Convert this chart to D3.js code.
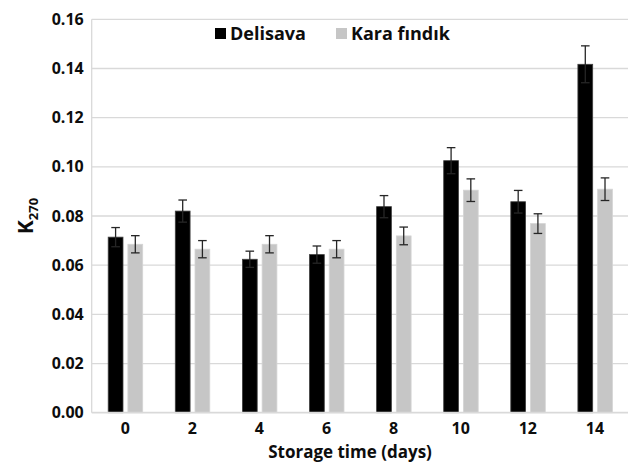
<!DOCTYPE html>
<html>
<head>
<meta charset="utf-8">
<script src="https://cdn.jsdelivr.net/npm/d3@7"></script>
<style>
  html, body { margin: 0; padding: 0; background: #fff; }
  svg { display: block; }
  text { font-family: "Open Sans", "Lato", sans-serif; font-weight: 700; fill: #0d0d0d; }
</style>
</head>
<body>
<svg id="chart" width="628" height="463"></svg>
<script>
// ---- data ----
const days = ["0", "2", "4", "6", "8", "10", "12", "14"];
const seriesNames = ["Delisava", "Kara fındık"];
const delisava = [0.0714, 0.0820, 0.0624, 0.0643, 0.0838, 0.1025, 0.0858, 0.1417];
const delisavaErr = [0.0039, 0.0045, 0.0033, 0.0035, 0.0045, 0.0053, 0.0046, 0.0075];
const kara = [0.0685, 0.0665, 0.0685, 0.0665, 0.0719, 0.0905, 0.0769, 0.0909];
const karaErr = [0.0035, 0.0035, 0.0035, 0.0035, 0.0036, 0.0046, 0.0040, 0.0046];
const yTicks = [0, 0.02, 0.04, 0.06, 0.08, 0.10, 0.12, 0.14, 0.16];
const xTitle = "Storage time (days)";
const yTitleMain = "K";
const yTitleSub = "270";

const colors = ["#000000", "#c6c6c6"];
const strokes = ["#404040", "#d4d4d4"];

const svg = d3.select("#chart");
const pLeft = 91.7, pRight = 628.5, pTop = 19.3, pBottom = 412.7;

const x = d3.scaleBand().domain(days).range([pLeft, pRight]).paddingInner(0).paddingOuter(0);
const x1 = d3.scaleBand().domain(seriesNames).range([16.5, 51]).paddingInner(0.25);
const y = d3.scaleLinear().domain([0, 0.16]).range([pBottom, pTop]);

// gridlines
svg.append("g").selectAll("line").data(yTicks.slice(1)).join("line")
  .attr("x1", pLeft).attr("x2", pRight)
  .attr("y1", d => y(d)).attr("y2", d => y(d))
  .attr("stroke", "#d9d9d9").attr("stroke-width", 1.3);

// y axis line
svg.append("line").attr("x1", pLeft).attr("x2", pLeft).attr("y1", pTop).attr("y2", pBottom)
  .attr("stroke", "#d9d9d9").attr("stroke-width", 1.3);

// y axis labels
const yAxis = d3.axisLeft(y).tickValues(yTicks).tickFormat(d3.format(".2f")).tickSize(0).tickPadding(8);
const gy = svg.append("g").attr("transform", `translate(${pLeft},0)`).call(yAxis);
gy.select(".domain").remove();
gy.selectAll("text").style("font-size", "16px").style("font-family", "'Open Sans', sans-serif").style("font-weight", 700).attr("fill", "#0d0d0d");

// bars
const rows = days.map((d, i) => ({ day: d, vals: [
  { s: seriesNames[0], v: delisava[i], e: delisavaErr[i], k: 0 },
  { s: seriesNames[1], v: kara[i], e: karaErr[i], k: 1 }
]}));

const grp = svg.append("g").selectAll("g").data(rows).join("g")
  .attr("transform", d => `translate(${x(d.day)},0)`);

grp.selectAll("rect").data(d => d.vals).join("rect")
  .attr("x", d => x1(d.s)).attr("width", x1.bandwidth())
  .attr("y", d => y(d.v)).attr("height", d => y(0) - y(d.v))
  .attr("fill", d => colors[d.k]).attr("stroke", d => strokes[d.k]).attr("stroke-width", 0.8);

// error bars
const eb = grp.selectAll("g.err").data(d => d.vals).join("g").attr("class", "err");
eb.append("line")
  .attr("x1", d => x1(d.s) + x1.bandwidth() / 2).attr("x2", d => x1(d.s) + x1.bandwidth() / 2)
  .attr("y1", d => y(d.v - d.e)).attr("y2", d => y(d.v + d.e))
  .attr("stroke", "#262626").attr("stroke-width", 1.3);
[1, -1].forEach(sg => {
  eb.append("line")
    .attr("x1", d => x1(d.s) + x1.bandwidth() / 2 - 4.3).attr("x2", d => x1(d.s) + x1.bandwidth() / 2 + 4.3)
    .attr("y1", d => y(d.v + sg * d.e)).attr("y2", d => y(d.v + sg * d.e))
    .attr("stroke", "#262626").attr("stroke-width", 1.3);
});

// x axis line
svg.append("line").attr("x1", pLeft).attr("x2", pRight).attr("y1", pBottom).attr("y2", pBottom)
  .attr("stroke", "#d9d9d9").attr("stroke-width", 1.8);

// x axis labels
const xAxis = d3.axisBottom(x).tickSize(0).tickPadding(10);
const gx = svg.append("g").attr("transform", `translate(0,${pBottom})`).call(xAxis);
gx.select(".domain").remove();
gx.selectAll("text").style("font-size", "16px").style("font-family", "'Open Sans', sans-serif").style("font-weight", 700).attr("fill", "#0d0d0d");

// x title
svg.append("text").attr("x", 350).attr("y", 458).attr("text-anchor", "middle")
  .style("font-size", "17px").text(xTitle);

// y title
const yt = svg.append("text").attr("transform", "translate(33,216) rotate(-90)").attr("text-anchor", "middle")
  .style("font-size", "21px");
yt.append("tspan").text(yTitleMain);
yt.append("tspan").attr("dy", 5).style("font-size", "13px").text(yTitleSub);

// legend
const legX = [215, 336];
const leg = svg.append("g").selectAll("g").data(seriesNames).join("g")
  .attr("transform", (d, i) => `translate(${legX[i]},28)`);
leg.append("rect").attr("width", 11).attr("height", 11).attr("fill", (d, i) => colors[i]);
leg.append("text").attr("x", 15).attr("y", 11.5).style("font-size", "18px").text(d => d);
</script>
</body>
</html>
